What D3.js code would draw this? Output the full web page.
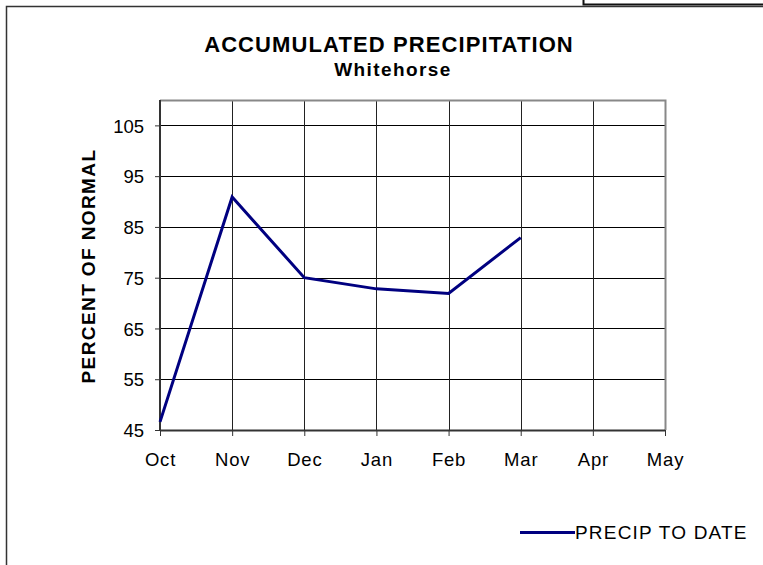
<!DOCTYPE html>
<html>
<head>
<meta charset="utf-8">
<script src="https://cdn.jsdelivr.net/npm/d3@7"></script>
<style>
  body { margin: 0; background: #fff; }
  svg { display: block; font-family: "Liberation Sans", Arial, sans-serif; }
</style>
</head>
<body>
<div id="chart"></div>
<script>
var months = ["Oct", "Nov", "Dec", "Jan", "Feb", "Mar", "Apr", "May"];
var precipMonths = ["Oct", "Nov", "Dec", "Jan", "Feb", "Mar"];
var precipValues = [46.6, 90.9, 75.0, 72.8, 71.9, 82.9];
var yTicks = [45, 55, 65, 75, 85, 95, 105];

var W = 763, H = 565;
var margin = { top: 100, right: 98, bottom: 135, left: 160 },
    width = W - margin.left - margin.right,
    height = H - margin.top - margin.bottom;

var svg = d3.select("#chart").append("svg")
    .attr("width", W)
    .attr("height", H);

// outer frame
svg.append("rect")
    .attr("x", 6.5).attr("y", 6.5)
    .attr("width", W).attr("height", H)
    .attr("fill", "none").attr("stroke", "#333").attr("stroke-width", 1.5);
// neighbouring box peeking at the top right
svg.append("path")
    .attr("d", "M583.5,0V4.5H" + (W + 2))
    .attr("fill", "none").attr("stroke", "#111").attr("stroke-width", 2);

var x = d3.scalePoint()
    .domain(months)
    .range([0, width]);

var y = d3.scaleLinear()
    .domain([45, 110])
    .range([height, 0]);

var g = svg.append("g")
    .attr("transform", "translate(" + margin.left + "," + margin.top + ")");

// gridlines
g.selectAll(".hgrid").data(yTicks.slice(1)).enter().append("line")
    .attr("x1", 0).attr("x2", width)
    .attr("y1", function (d) { return Math.round(y(d)) + 0.5; })
    .attr("y2", function (d) { return Math.round(y(d)) + 0.5; })
    .attr("stroke", "#000").attr("stroke-width", 1);

g.selectAll(".vgrid").data(months.slice(1, -1)).enter().append("line")
    .attr("x1", function (d) { return Math.round(x(d)) + 0.5; })
    .attr("x2", function (d) { return Math.round(x(d)) + 0.5; })
    .attr("y1", 0).attr("y2", height)
    .attr("stroke", "#222").attr("stroke-width", 1);

// plot border (top and right)
g.append("path")
    .attr("d", "M0,0.5H" + (width + 0.5) + "V" + height)
    .attr("fill", "none").attr("stroke", "#888").attr("stroke-width", 2);

// axes
var yAxis = d3.axisLeft(y).tickValues(yTicks).tickSize(5).tickPadding(11);
var yg = g.append("g").call(yAxis);
yg.select(".domain").remove();
yg.selectAll("line").attr("stroke", "#333");
yg.selectAll("text").attr("font-size", 18.5).attr("fill", "#000").attr("dy", "0.36em");
g.append("line")
    .attr("x1", 0).attr("x2", 0).attr("y1", 0).attr("y2", height)
    .attr("stroke", "#333").attr("stroke-width", 2);

var xAxis = d3.axisBottom(x).tickSize(6).tickPadding(28);
var xg = g.append("g").attr("transform", "translate(0," + height + ")").call(xAxis);
xg.select(".domain").remove();
xg.selectAll("line").attr("stroke", "#333");
xg.selectAll("text").attr("font-size", 18.5).attr("fill", "#000")
    .attr("letter-spacing", 0.8).attr("dy", "0.1em");
g.append("line")
    .attr("x1", 0).attr("x2", width).attr("y1", height + 0.5).attr("y2", height + 0.5)
    .attr("stroke", "#333").attr("stroke-width", 2);

// series
var line = d3.line()
    .x(function (d, i) { return x(precipMonths[i]); })
    .y(function (d) { return y(d); });

g.append("path")
    .datum(precipValues)
    .attr("d", line)
    .attr("fill", "none")
    .attr("stroke", "#000080")
    .attr("stroke-width", 3)
    .attr("stroke-linejoin", "miter");

// titles
svg.append("text")
    .attr("x", 389).attr("y", 52)
    .attr("text-anchor", "middle")
    .attr("font-size", 22).attr("font-weight", "bold")
    .attr("letter-spacing", 1.1)
    .text("ACCUMULATED PRECIPITATION");
svg.append("text")
    .attr("x", 393).attr("y", 76)
    .attr("text-anchor", "middle")
    .attr("font-size", 19).attr("font-weight", "bold")
    .attr("letter-spacing", 1.4)
    .text("Whitehorse");
svg.append("text")
    .attr("transform", "translate(94.5,266) rotate(-90)")
    .attr("text-anchor", "middle")
    .attr("font-size", 19).attr("font-weight", "bold")
    .attr("letter-spacing", 1.4)
    .text("PERCENT OF NORMAL");

// legend
var lg = svg.append("g").attr("transform", "translate(520,532.5)");
lg.append("line")
    .attr("x1", 0).attr("x2", 55).attr("y1", 0).attr("y2", 0)
    .attr("stroke", "#000080").attr("stroke-width", 3);
lg.append("text")
    .attr("x", 55).attr("y", 6.5)
    .attr("font-size", 19)
    .attr("letter-spacing", 1.2)
    .text("PRECIP TO DATE");
</script>
</body>
</html>
